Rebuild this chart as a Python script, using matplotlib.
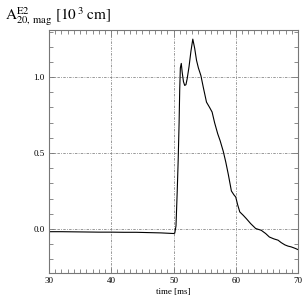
import matplotlib
matplotlib.use("Agg")
import matplotlib.pyplot as plt
from matplotlib.ticker import MultipleLocator, FixedLocator

plt.rcParams['font.family'] = ['Liberation Serif', 'DejaVu Serif']
plt.rcParams['mathtext.fontset'] = 'stix'

time_ms = [30, 32, 34, 36, 38, 40, 42, 44, 46, 47, 48, 49, 49.5, 50.0, 50.2, 50.4, 50.6, 50.75, 50.9, 51.0, 51.1,
           51.25, 51.4, 51.6, 51.8, 52.0, 52.2, 52.5, 52.8, 53.1, 53.4, 53.7, 54.0, 54.4, 54.8, 55.3,
           55.8, 56.2, 56.6, 57.1, 57.5, 58.0, 58.4, 58.8, 59.3, 59.7, 60.0, 60.3, 60.65, 61.2, 61.7,
           62.4, 63.2, 64.1, 64.8, 65.4, 66.1, 66.8, 67.3, 67.9, 68.4, 68.9, 69.5, 70.0]
amp = [-0.018, -0.018, -0.019, -0.020, -0.021, -0.021, -0.022, -0.022, -0.024, -0.025, -0.026, -0.028,
       -0.029, -0.030, -0.028, 0.02, 0.25, 0.45, 0.70, 0.92, 1.06,
       1.09, 1.03, 0.97, 0.945, 0.95, 0.99, 1.07, 1.17, 1.25, 1.19, 1.11, 1.06, 1.01, 0.93, 0.835,
       0.80, 0.77, 0.70, 0.627, 0.58, 0.51, 0.44, 0.36, 0.25, 0.225, 0.21, 0.16, 0.112, 0.09, 0.068,
       0.035, 0.003, -0.009, -0.03, -0.053, -0.065, -0.074, -0.09, -0.105, -0.113, -0.118, -0.127, -0.136]

fig = plt.figure(figsize=(3.05, 3.05), dpi=100)
ax = fig.add_axes([49/305, 1-273/305, 249/305, 243/305])

ax.plot(time_ms, amp, color='black', lw=0.8)

ax.set_xlim(30, 70)
ax.set_ylim(-0.29, 1.31)
ax.xaxis.set_major_locator(MultipleLocator(10))
ax.xaxis.set_minor_locator(MultipleLocator(1))
ax.yaxis.set_major_locator(FixedLocator([0.0, 0.5, 1.0]))
ax.yaxis.set_minor_locator(MultipleLocator(0.1))
ax.set_yticklabels(['0.0', '0.5', '1.0'])

ax.grid(True, which='major', color='#888888', lw=0.6, linestyle=(0, (1, 1.5, 3, 1.5)))
ax.tick_params(which='both', direction='in', top=True, right=True, color='#777777',
               labelsize=6.5, pad=3)
ax.tick_params(which='major', length=4, width=0.6)
ax.tick_params(which='minor', length=3, width=0.6)
for s in ax.spines.values():
    s.set_color('#777777')
    s.set_linewidth(0.8)

ax.set_xlabel('time [ms]', fontsize=6.5, labelpad=2)
fig.text(0.015, 0.945, r'$\mathrm{A}^{\mathrm{E2}}_{\mathrm{20,\,mag}}\ [10^{\,3}\ \mathrm{cm}]$',
         fontsize=11, ha='left', va='center')

fig.savefig('out.png', dpi=100)
